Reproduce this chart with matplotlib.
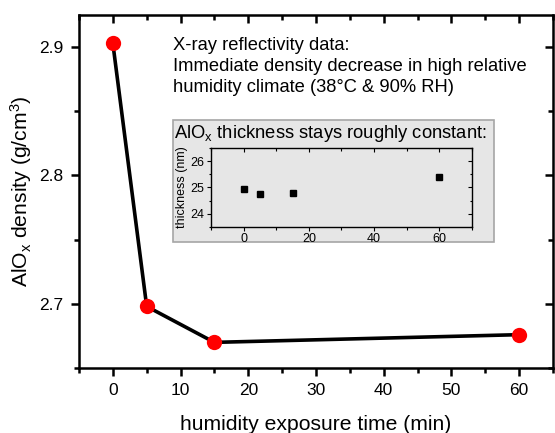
import matplotlib
matplotlib.use("Agg")
import matplotlib.pyplot as plt
from matplotlib.patches import Rectangle
from matplotlib.ticker import MultipleLocator

plt.rcParams["font.family"] = ["Liberation Sans", "DejaVu Sans"]
plt.rcParams["mathtext.fontset"] = "custom"
plt.rcParams["mathtext.rm"] = "Liberation Sans"
plt.rcParams["mathtext.it"] = "Liberation Sans"

# density from X-ray reflectivity
time_min = [0, 5, 15, 60]
density = [2.903, 2.698, 2.670, 2.676]

# inset: layer thickness
thick_time = [0, 5, 15, 60]
thickness_nm = [24.96, 24.75, 24.78, 25.40]

note = ("X-ray reflectivity data:\n"
        "Immediate density decrease in high relative\n"
        "humidity climate (38\u00b0C & 90% RH)")


def mirror_ticks(a, xmaj, xmin, ymaj, ymin, lw, lmaj, lmin, zorder):
    """Inward ticks on top/right through twin axes without labels."""
    at = a.twiny()
    at.set_xlim(a.get_xlim())
    at.xaxis.set_major_locator(MultipleLocator(xmaj))
    at.xaxis.set_minor_locator(MultipleLocator(xmin))
    at.tick_params(which="both", direction="in", width=lw, labeltop=False)
    at.tick_params(which="major", length=lmaj)
    at.tick_params(which="minor", length=lmin)
    ar = a.twinx()
    ar.set_ylim(a.get_ylim())
    ar.yaxis.set_major_locator(MultipleLocator(ymaj))
    ar.yaxis.set_minor_locator(MultipleLocator(ymin))
    ar.tick_params(which="both", direction="in", width=lw, labelright=False)
    ar.tick_params(which="major", length=lmaj)
    ar.tick_params(which="minor", length=lmin)
    for t in (at, ar):
        t.spines[:].set_visible(False)
        t.set_zorder(zorder)


fig = plt.figure(figsize=(5.55, 4.33), dpi=100)
ax = fig.add_axes([0.1423, 0.150, 0.854, 0.8154])

ax.plot(time_min, density, color="black", lw=2.6, zorder=2)
ax.plot(time_min, density, "o", color="#ff0000", ms=11, mec="none", zorder=3)

ax.set_xlim(-5, 65)
ax.set_ylim(2.65, 2.925)
ax.xaxis.set_major_locator(MultipleLocator(10))
ax.xaxis.set_minor_locator(MultipleLocator(5))
ax.yaxis.set_major_locator(MultipleLocator(0.1))
ax.yaxis.set_minor_locator(MultipleLocator(0.05))
ax.yaxis.set_major_formatter(lambda v, p: f"{v:.1f}")
for s in ax.spines.values():
    s.set_linewidth(1.8)
ax.tick_params(which="both", direction="out", width=1.8, labelsize=12.5,
               top=False, right=False)
ax.tick_params(which="major", length=6, pad=5)
ax.tick_params(which="minor", length=3.5)
ax.set_xlabel("humidity exposure time (min)", fontsize=15.2, labelpad=12)
ax.set_ylabel("AlO$_{\\mathrm{x}}$ density (g/cm$^3$)", fontsize=15.2, labelpad=4)
mirror_ticks(ax, 10, 5, 0.1, 0.05, 1.8, 6, 3.5, 0.5)

fig.text(0.311, 0.915, note, fontsize=13.2, va="top", ha="left", linespacing=1.3)

# grey inset panel
fig.patches.append(Rectangle((0.311, 0.4418), 0.579, 0.2811, transform=fig.transFigure,
                             facecolor="#e6e6e6", edgecolor="#a6a6a6", lw=1.2, zorder=1))
fig.text(0.313, 0.692, "AlO$_{\\mathrm{x}}$ thickness stays roughly constant:",
         fontsize=13.2, va="center", ha="left", zorder=3)

ins = fig.add_axes([0.380, 0.4758, 0.4705, 0.1824])
ins.set_zorder(2)
ins.set_facecolor("#e6e6e6")
ins.plot(thick_time, thickness_nm, "s", color="black", ms=4.5)
ins.set_xlim(-10, 70)
ins.set_ylim(23.5, 26.5)
ins.xaxis.set_major_locator(MultipleLocator(20))
ins.xaxis.set_minor_locator(MultipleLocator(10))
ins.yaxis.set_major_locator(MultipleLocator(1))
ins.yaxis.set_minor_locator(MultipleLocator(0.5))
for s in ins.spines.values():
    s.set_linewidth(1.0)
ins.tick_params(which="both", direction="out", width=0.8, labelsize=9, pad=1.5,
                top=False, right=False)
ins.tick_params(which="major", length=3)
ins.tick_params(which="minor", length=1.8)
ins.set_ylabel("thickness (nm)", fontsize=9, labelpad=2)
mirror_ticks(ins, 20, 10, 1, 0.5, 0.8, 3, 1.8, 2.5)

fig.savefig("out.png", dpi=100)
